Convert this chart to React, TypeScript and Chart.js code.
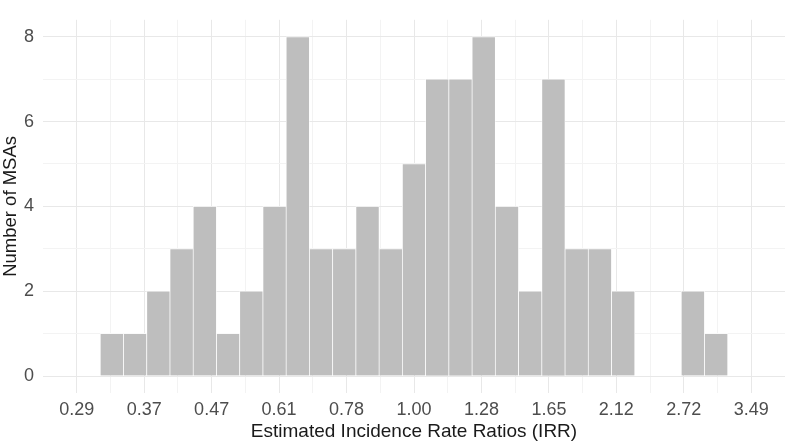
import React, { useEffect, useRef } from "react";
import { Chart, registerables } from "chart.js";

Chart.register(...registerables);

// Bin midpoints on the log(IRR) scale
const binMidLogIRR = [
  -1.1197, -1.0336, -0.9474, -0.8613, -0.7752, -0.689, -0.6029, -0.5168, -0.4307,
  -0.3445, -0.2584, -0.1723, -0.0861, 0.0, 0.0861, 0.1723, 0.2584, 0.3445,
  0.4307, 0.5168, 0.6029, 0.689, 0.7752, 0.8613, 0.9474, 1.0336, 1.1197,
];
// Number of MSAs per bin
const msaCounts = [
  1, 1, 2, 3, 4, 1, 2, 4, 8, 3, 3, 4, 3, 5, 7, 7, 8, 4, 2, 7, 3, 3, 2, 0, 0, 2, 1,
];
// X axis ticks (log scale positions) and their labels
const xTickLogValues = [-1.25, -1.0, -0.75, -0.5, -0.25, 0, 0.25, 0.5, 0.75, 1.0, 1.25];
const xTickLabels = ["0.29", "0.37", "0.47", "0.61", "0.78", "1.00", "1.28", "1.65", "2.12", "2.72", "3.49"];
const xMinorLogValues = [-1.125, -0.875, -0.625, -0.375, -0.125, 0.125, 0.375, 0.625, 0.875, 1.125];
// Y axis ticks
const yMajorTicks = [0, 2, 4, 6, 8];
const yMinorTicks = [1, 3, 5, 7];

const FONT = "'Liberation Sans', Arial, sans-serif";

export default function App() {
  const ref = useRef<HTMLCanvasElement | null>(null);

  useEffect(() => {
    if (!ref.current) return;
    const isXMajor = (v: number) => xTickLogValues.some((t) => Math.abs(t - v) < 1e-6);
    const isYMajor = (v: number) => yMajorTicks.some((t) => Math.abs(t - v) < 1e-6);

    const chart = new Chart(ref.current, {
      type: "bar",
      data: {
        datasets: [
          {
            data: binMidLogIRR.map((x, i) => ({ x, y: msaCounts[i] })),
            backgroundColor: "#BEBEBE",
            borderColor: "#FFFFFF",
            borderWidth: 0.7,
            barPercentage: 1,
            categoryPercentage: 1,
          },
        ],
      },
      options: {
        animation: false,
        responsive: false,
        maintainAspectRatio: false,
        layout: { padding: { top: 2, right: 2, left: 0, bottom: 0 } },
        plugins: { legend: { display: false }, tooltip: { enabled: false } },
        scales: {
          x: {
            type: "linear",
            min: -1.375,
            max: 1.375,
            offset: false,
            afterBuildTicks: (scale: any) => {
              scale.ticks = [...xTickLogValues, ...xMinorLogValues]
                .sort((a, b) => a - b)
                .map((v) => ({ value: v }));
            },
            afterFit: (scale: any) => {
              scale.height = 50;
            },
            grid: {
              offset: false,
              drawTicks: false,
              color: (ctx: any) => (isXMajor(ctx.tick?.value) ? "#E8E8E8" : "#F3F3F3"),
              lineWidth: 1,
            },
            border: { display: false },
            ticks: {
              autoSkip: false,
              maxRotation: 0,
              padding: 6,
              color: "#4D4D4D",
              font: { family: FONT, size: 18 },
              callback: (value: any) => {
                const idx = xTickLogValues.findIndex((t) => Math.abs(t - Number(value)) < 1e-6);
                return idx >= 0 ? xTickLabels[idx] : "";
              },
            },
            title: {
              display: true,
              text: "Estimated Incidence Rate Ratios (IRR)",
              color: "#1A1A1A",
              font: { family: FONT, size: 19 },
              padding: 0,
            },
          },
          y: {
            type: "linear",
            min: -0.4,
            max: 8.4,
            afterBuildTicks: (scale: any) => {
              scale.ticks = [...yMajorTicks, ...yMinorTicks]
                .sort((a, b) => a - b)
                .map((v) => ({ value: v }));
            },
            afterFit: (scale: any) => {
              scale.width = 43;
            },
            grid: {
              drawTicks: false,
              color: (ctx: any) => (isYMajor(ctx.tick?.value) ? "#E8E8E8" : "#F3F3F3"),
              lineWidth: 1,
            },
            border: { display: false },
            ticks: {
              autoSkip: false,
              padding: 9,
              color: "#4D4D4D",
              font: { family: FONT, size: 18 },
              callback: (value: any) => (isYMajor(Number(value)) ? String(value) : ""),
            },
            title: {
              display: true,
              text: "Number of MSAs",
              color: "#1A1A1A",
              font: { family: FONT, size: 18.5 },
              padding: 0,
            },
          },
        },
      },
    });
    return () => chart.destroy();
  }, []);

  return (
    <div style={{ position: "absolute", left: 0, top: 0, width: 787, height: 443, background: "#FFFFFF" }}>
      <canvas ref={ref} width={787} height={443} style={{ width: 787, height: 443, display: "block" }} />
    </div>
  );
}
